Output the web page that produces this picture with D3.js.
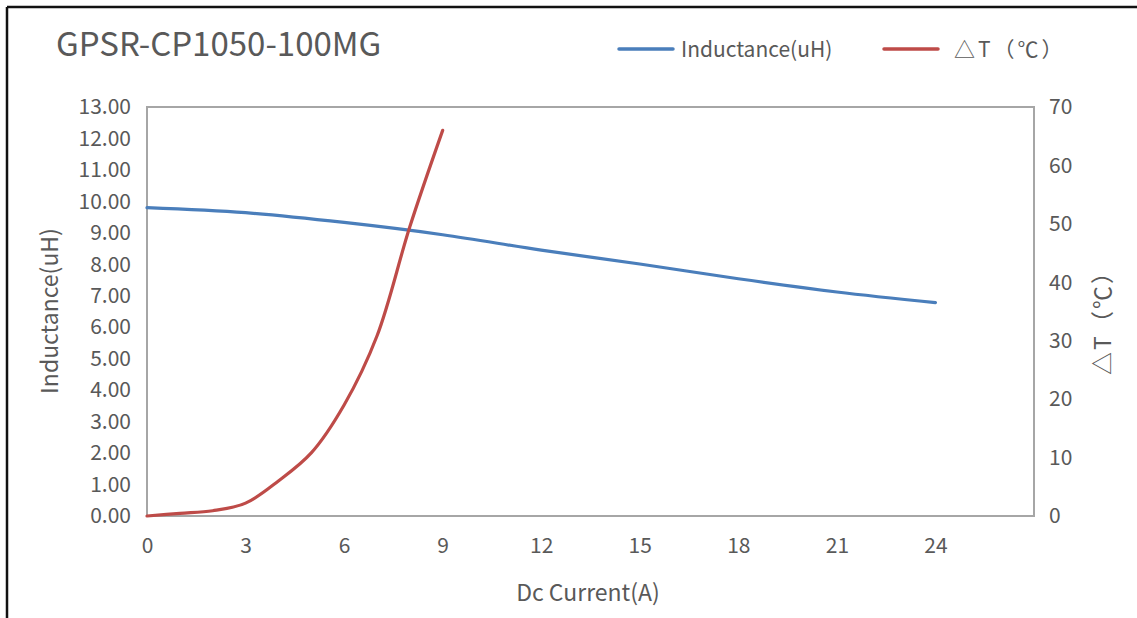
<!DOCTYPE html>
<html>
<head>
<meta charset="utf-8">
<script src="https://cdn.jsdelivr.net/npm/d3@7"></script>
<style>
  body { margin: 0; background: #fff; }
  text { font-family: "Noto Sans CJK SC", "Open Sans", sans-serif; fill: #595959; }
  .axis path, .axis line { display: none; }
</style>
</head>
<body>
<svg id="chart" width="1137" height="618"></svg>
<script>
// data
const TITLE = "GPSR-CP1050-100MG";
const indX = [0, 3, 6, 9, 12, 15, 18, 21, 24];
const indY = [9.80, 9.64, 9.33, 8.94, 8.45, 8.01, 7.54, 7.12, 6.78];
const tempX = [0, 1, 2, 3, 4, 5, 6, 7, 8, 9];
const tempY = [0, 0.45, 0.9, 2.2, 6, 10.8, 19, 30.8, 49.5, 66];
const xTicks = [0, 3, 6, 9, 12, 15, 18, 21, 24];
const leftTicks = d3.range(0, 14, 1);
const rightTicks = d3.range(0, 80, 10);

const BLUE = "#4a7ebb";
const RED = "#be4b48";

const svg = d3.select("#chart");

// outer frame (top + left only visible)
svg.append("line").attr("x1", 7).attr("x2", 1137).attr("y1", 7).attr("y2", 7)
  .attr("stroke", "#111").attr("stroke-width", 2.5);
svg.append("line").attr("x1", 7).attr("x2", 7).attr("y1", 7).attr("y2", 618)
  .attr("stroke", "#111").attr("stroke-width", 2.5);

const L = 147, R = 1034, T = 107, B = 516;

const x = d3.scaleLinear().domain([0, 27]).range([L, R]);
const yL = d3.scaleLinear().domain([0, 13]).range([B, T]);
const yR = d3.scaleLinear().domain([0, 70]).range([B, T]);

// plot border
svg.append("rect").attr("x", L).attr("y", T).attr("width", R - L).attr("height", B - T)
  .attr("fill", "none").attr("stroke", "#a6a6a6").attr("stroke-width", 2);

// axes
svg.append("g").attr("class", "axis")
  .attr("transform", `translate(0,${B})`)
  .call(d3.axisBottom(x).tickValues(xTicks).tickSize(0).tickPadding(22))
  .selectAll("text").style("font-size", "21px");

svg.append("g").attr("class", "axis")
  .attr("transform", `translate(${L},0)`)
  .call(d3.axisLeft(yL).tickValues(leftTicks).tickFormat(d3.format(".2f")).tickSize(0).tickPadding(16))
  .selectAll("text").style("font-size", "21px");

svg.append("g").attr("class", "axis")
  .attr("transform", `translate(${R},0)`)
  .call(d3.axisRight(yR).tickValues(rightTicks).tickSize(0).tickPadding(15))
  .selectAll("text").style("font-size", "21px");

svg.selectAll(".axis .domain").remove();

// lines
const indLine = d3.line().x((d, i) => x(indX[i])).y(d => yL(d)).curve(d3.curveCatmullRom);
const tempLine = d3.line().x((d, i) => x(tempX[i])).y(d => yR(d)).curve(d3.curveCatmullRom);

svg.append("path").attr("d", indLine(indY))
  .attr("fill", "none").attr("stroke", BLUE).attr("stroke-width", 3.2).attr("stroke-linecap", "round");
svg.append("path").attr("d", tempLine(tempY))
  .attr("fill", "none").attr("stroke", RED).attr("stroke-width", 3.2).attr("stroke-linecap", "round");

// title
svg.append("text").attr("x", 56).attr("y", 56).text(TITLE).style("font-size", "33px");

// axis titles
svg.append("text").attr("transform", "translate(58,311) rotate(-90)")
  .attr("text-anchor", "middle").text("Inductance(uH)").style("font-size", "23px");
svg.append("text").attr("transform", "translate(1111,317) rotate(-90)")
  .attr("text-anchor", "middle").text("△T（℃）").style("font-size", "23px")
  .style("letter-spacing", "2px");
svg.append("text").attr("x", 588).attr("y", 601)
  .attr("text-anchor", "middle").text("Dc Current(A)").style("font-size", "23px");

// legend
const legend = [
  { name: "Inductance(uH)", color: BLUE, x: 619, dx: 62, ls: 0 },
  { name: "△T（℃）", color: RED, x: 884, dx: 70, ls: 3 }
];
const lg = svg.selectAll(".lg").data(legend).join("g").attr("class", "lg")
  .attr("transform", d => `translate(${d.x},49)`);
lg.append("line").attr("x1", 0).attr("x2", 54).attr("y1", 0).attr("y2", 0)
  .attr("stroke", d => d.color).attr("stroke-width", 3.5).attr("stroke-linecap", "round");
lg.append("text").attr("x", d => d.dx).attr("y", 8).text(d => d.name)
  .style("font-size", "21px").style("letter-spacing", d => d.ls + "px");
</script>
</body>
</html>
